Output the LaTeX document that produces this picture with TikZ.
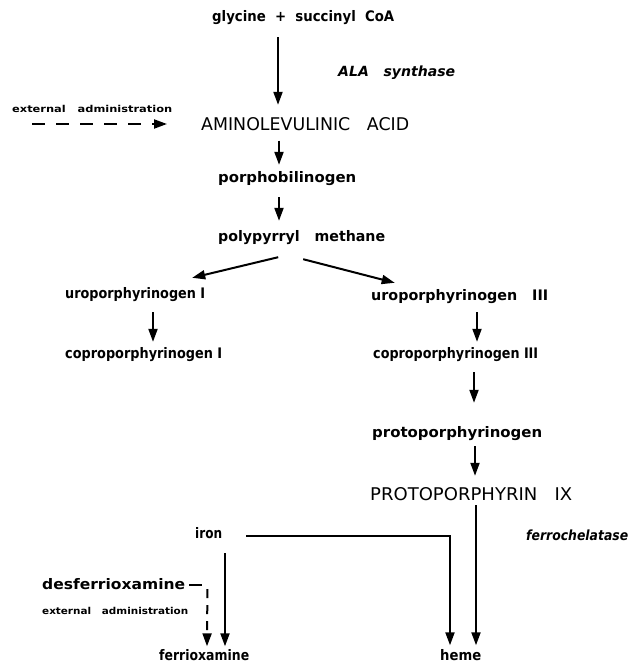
\documentclass[tikz,border=0pt]{standalone}
\usepackage{fontspec}
\setmainfont{DejaVu Sans}
\usepackage{graphicx}
\usetikzlibrary{arrows.meta,calc}
\newcommand\fw[2]{\resizebox{#1pt}{\height}{#2}}
\begin{document}
\begin{tikzpicture}[x=1pt,y=-1pt,
  lbl/.style={font=\bfseries\fontsize{14.5}{16}\selectfont, inner sep=0pt, anchor=west, text height=10pt, text depth=3pt},
  big/.style={font=\fontsize{17.5}{19}\selectfont, inner sep=0pt, anchor=west, text height=12pt, text depth=1pt},
  enz/.style={font=\bfseries\itshape\fontsize{14}{16}\selectfont, inner sep=0pt, anchor=west, text height=10pt, text depth=3pt},
  tiny/.style={font=\bfseries\fontsize{9.5}{11}\selectfont, inner sep=0pt, anchor=west, text height=7pt, text depth=2pt},
  arr/.style={line width=2pt, -{Triangle[length=13pt,width=9pt]}},
  dsh/.style={arr, dash pattern=on 13pt off 11pt},
  dshb/.style={arr, dash pattern=on 9pt off 7pt},
  ln/.style={line width=2pt}]
\useasboundingbox (0,0) rectangle (633,666);
\node[lbl] (gly) at (212,18) {\fw{182}{glycine\ \ +\ \ succinyl\ \ CoA}};
\node[enz] (alas) at (338,73) {\fw{117}{ALA\ \ \ synthase}};
\node[tiny] (ext1) at (12,110) {\fw{160}{external\ \ \ administration}};
\node[big] (ala) at (201,125) {\fw{208}{AMINOLEVULINIC\ \ \ ACID}};
\node[lbl] (pbg) at (218,179) {\fw{138}{porphobilinogen}};
\node[lbl] (ppm) at (218,238) {\fw{167}{polypyrryl\ \ \ methane}};
\node[lbl] (uro1) at (65,295) {\fw{140}{uroporphyrinogen I}};
\node[lbl] (uro3) at (371,297) {\fw{177}{uroporphyrinogen\ \ \ III}};
\node[lbl] (copro1) at (65,355) {\fw{157}{coproporphyrinogen I}};
\node[lbl] (copro3) at (373,355) {\fw{165}{coproporphyrinogen III}};
\node[lbl] (protog) at (372,434) {\fw{170}{protoporphyrinogen}};
\node[big] (proto) at (370,495) {\fw{202}{PROTOPORPHYRIN\ \ \ IX}};
\node[enz] (fc) at (526,537) {\fw{102}{ferrochelatase}};
\node[lbl] (iron) at (195,535) {\fw{27}{iron}};
\node[lbl] (dfo) at (42,586) {\fw{143}{desferrioxamine}};
\node[tiny] (ext2) at (42,612) {\fw{146}{external\ \ \ administration}};
\node[lbl] (fo) at (159,657) {\fw{90}{ferrioxamine}};
\node[lbl] (heme) at (440,657) {\fw{41}{heme}};
\coordinate (extstart) at (32,124);
% arrows
\draw[arr, shorten <=12.5pt, shorten >=13.5pt] (gly.south -| 278,0) -- (ala.north -| 278,0);
\draw[dsh] (extstart) -- ($(ala.west)+(-34,-1)$);
\draw[arr, shorten <=9pt, shorten >=7.5pt] (ala.south -| 279,0) -- (pbg.north -| 279,0);
\draw[arr, shorten <=11.5pt, shorten >=10.5pt] (pbg.south -| 279,0) -- (ppm.north -| 279,0);
\draw[arr] ($(ppm.south)+(-23.5,12.5)$) -- ($(uro1.north)+(57,-10.5)$);
\draw[arr] ($(ppm.south)+(1.5,14.5)$) -- ($(uro3.north)+(-65,-7.5)$);
\draw[arr, shorten <=10.5pt, shorten >=6.5pt] (uro1.south -| 153,0) -- (copro1.north -| 153,0);
\draw[arr, shorten <=8.5pt, shorten >=6.5pt] (uro3.south -| 477,0) -- (copro3.north -| 477,0);
\draw[arr, shorten <=10.5pt, shorten >=24.5pt] (copro3.south -| 474,0) -- (protog.north -| 474,0);
\draw[arr, shorten <=5.5pt, shorten >=12.5pt] (protog.south -| 475,0) -- (proto.north -| 475,0);
\draw[arr, shorten <=3.5pt, shorten >=5pt] (proto.south -| 476,0) -- (heme.north -| 476,0);
\draw[arr, shorten >=5pt] ($(iron.east)+(24,1)$) -| (heme.north -| 450,0);
\draw[arr, shorten <=11.5pt, shorten >=4pt] (iron.south -| 225,0) -- (fo.north -| 225,0);
\draw[ln] ($(dfo.east)+(4,-1)$) -- ($(dfo.east)+(17,-1)$);
\draw[dshb] ($(dfo.east)+(22,3)$) -- ($(fo.north -| 207,0)+(0,-4)$);
\end{tikzpicture}
\end{document}
